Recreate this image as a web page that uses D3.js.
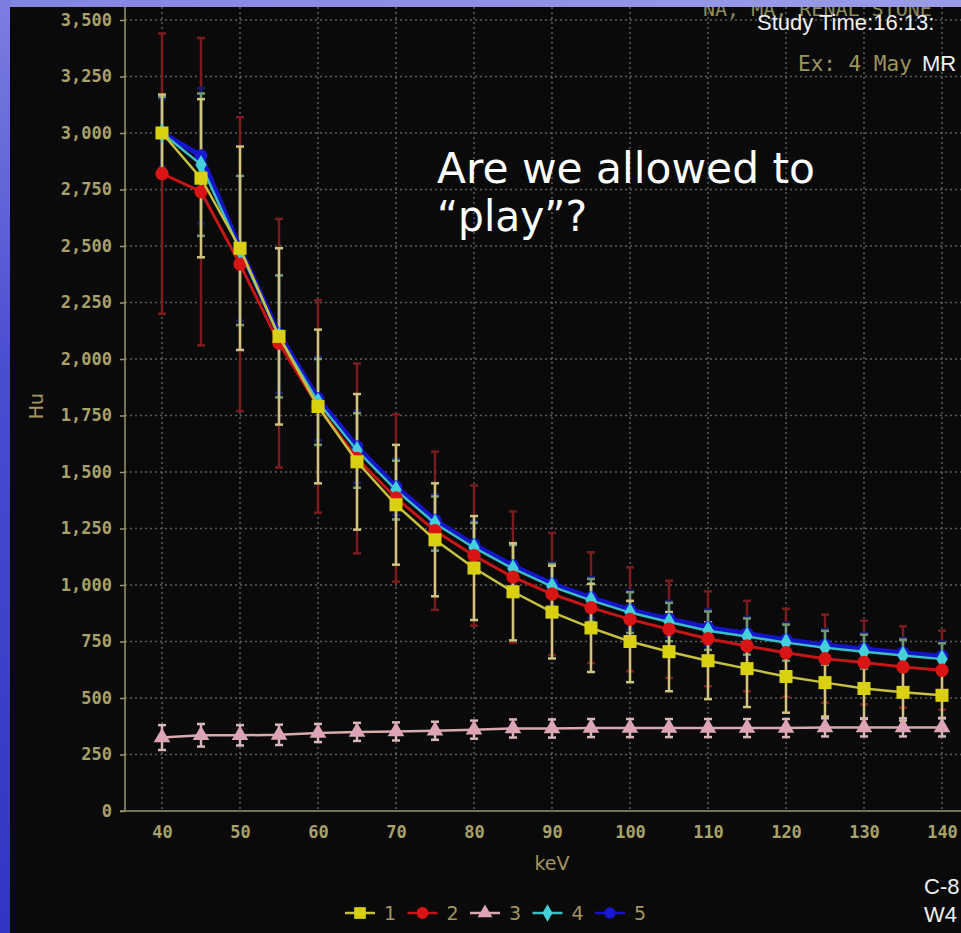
<!DOCTYPE html>
<meta charset="utf-8">
<style>
body { margin: 0; background: #0a0a0a; }
svg { display: block; }
.tick text { font-family: "DejaVu Sans Mono", monospace; font-size: 17px; font-weight: bold; fill: #a8a16a; }
.axis path, .axis line { stroke: #9a9470; stroke-width: 1.5px; }
.grid line { stroke: #5c5c5c; stroke-width: 1.5px; stroke-dasharray: 2,3; }
</style>
<svg width="961" height="933"></svg>
<script src="https://d3js.org/d3.v7.min.js"></script>
<script>

var keV = [40, 45, 50, 55, 60, 65, 70, 75, 80, 85, 90, 95, 100, 105, 110, 115, 120, 125, 130, 135, 140];

var s1 = [3000, 2800, 2490, 2100, 1790, 1545, 1355, 1200, 1075, 970, 880, 810, 750, 705, 665, 630, 595, 568, 542, 525, 512],
    s1Err = [170, 350, 450, 390, 340, 300, 265, 250, 230, 215, 205, 195, 180, 175, 170, 170, 160, 150, 135, 125, 100];
var s2 = [2820, 2740, 2420, 2070, 1790, 1560, 1385, 1240, 1130, 1035, 960, 900, 848, 804, 762, 730, 700, 674, 657, 637, 623],
    s2Err = [620, 680, 650, 550, 470, 420, 370, 350, 310, 290, 270, 245, 230, 215, 210, 200, 195, 195, 185, 180, 175];
var s3 = [325, 335, 335, 337, 345, 350, 352, 355, 360, 365, 365, 367, 367, 367, 367, 367, 367, 370, 370, 370, 370],
    s3Err = [55, 50, 45, 45, 40, 40, 40, 40, 40, 40, 40, 40, 40, 40, 40, 40, 40, 40, 40, 40, 40];
var s4 = [3000, 2860, 2480, 2100, 1810, 1595, 1420, 1272, 1165, 1072, 993, 932, 878, 836, 798, 772, 745, 722, 705, 688, 672],
    s4Err = [160, 315, 330, 270, 190, 165, 130, 120, 110, 105, 100, 95, 90, 85, 85, 80, 80, 75, 75, 70, 70];
var s5 = [3000, 2900, 2490, 2110, 1825, 1612, 1435, 1287, 1178, 1085, 1005, 944, 890, 850, 812, 785, 758, 735, 717, 700, 685],
    s5Err = [150, 300, 320, 260, 185, 160, 125, 115, 105, 100, 95, 90, 85, 80, 80, 75, 75, 70, 70, 65, 65];

var xTicks = [40, 50, 60, 70, 80, 90, 100, 110, 120, 130, 140];
var yTicks = [0, 250, 500, 750, 1000, 1250, 1500, 1750, 2000, 2250, 2500, 2750, 3000, 3250, 3500];
var seriesNames = ["1", "2", "3", "4", "5"];

var svg = d3.select("svg");

var x = d3.scaleLinear().domain([35, 145]).range([123, 981]),
    y = d3.scaleLinear().domain([0, 3500]).range([811, 20]);

// background
svg.append("rect").attr("width", 961).attr("height", 933).attr("fill", "#0a0a0a");

// grid
var grid = svg.append("g").attr("class", "grid");
grid.selectAll(".v").data(xTicks).enter().append("line")
    .attr("x1", function(d) { return x(d); }).attr("x2", function(d) { return x(d); })
    .attr("y1", 7).attr("y2", 811);
grid.selectAll(".h").data(yTicks.slice(1)).enter().append("line")
    .attr("x1", 125).attr("x2", 961)
    .attr("y1", function(d) { return y(d); }).attr("y2", function(d) { return y(d); });

// axes
svg.append("g")
    .attr("class", "axis")
    .attr("transform", "translate(125,0)")
    .call(d3.axisLeft(y).tickValues(yTicks).tickFormat(d3.format(",")).tickSize(5).tickSizeOuter(0).tickPadding(8))
    .select(".domain").attr("d", "M0,7V811");

svg.append("g")
    .attr("class", "axis")
    .attr("transform", "translate(0,811)")
    .call(d3.axisBottom(x).tickValues(xTicks).tickSize(0).tickPadding(15))
    .select(".domain").attr("d", "M120,0H961");

svg.append("text").attr("x", 552).attr("y", 870).attr("text-anchor", "middle")
    .attr("font-family", "DejaVu Sans").attr("font-size", 19).attr("fill", "#a39462").text("keV");
svg.append("text").attr("transform", "translate(43,406) rotate(-90)").attr("text-anchor", "middle")
    .attr("font-family", "DejaVu Sans").attr("font-size", 19).attr("fill", "#a39462").text("Hu");

var series = [
  {vals: s5, err: s5Err, line: "#1414c8", lw: 5, bar: "#1a1a70", fill: "#1818d0", sym: d3.symbolCircle, size: 130},
  {vals: s4, err: s4Err, line: "#3cbcc4", lw: 2.5, bar: "#6e9a72", fill: "#44d0d8", sym: d3.symbolDiamond, size: 110},
  {vals: s2, err: s2Err, line: "#c41616", lw: 3, bar: "#7a1c1c", fill: "#d81414", sym: d3.symbolCircle, size: 140},
  {vals: s1, err: s1Err, line: "#c8c040", lw: 2.5, bar: "#cfc480", fill: "#d8d010", sym: d3.symbolSquare, size: 170},
  {vals: s3, err: s3Err, line: "#d8aab0", lw: 2.5, bar: "#d8b8b8", fill: "#dca4b4", sym: d3.symbolTriangle, size: 120}
];

// error bars: red first (widest), then the rest
var barOrder = [series[2], series[0], series[1], series[3], series[4]];
barOrder.forEach(function(s) {
  var g = svg.append("g").attr("stroke", s.bar).attr("stroke-width", 2.5);
  keV.forEach(function(k, i) {
    var top = y(s.vals[i] + s.err[i]), bot = y(s.vals[i] - s.err[i]), cx = x(k);
    g.append("line").attr("x1", cx).attr("x2", cx).attr("y1", top).attr("y2", bot);
    g.append("line").attr("x1", cx - 4).attr("x2", cx + 4).attr("y1", top).attr("y2", top);
    g.append("line").attr("x1", cx - 4).attr("x2", cx + 4).attr("y1", bot).attr("y2", bot);
  });
});

var line = d3.line().x(function(d) { return x(d[0]); }).y(function(d) { return y(d[1]); });

series.forEach(function(s) {
  var pts = keV.map(function(k, i) { return [k, s.vals[i]]; });
  svg.append("path").datum(pts).attr("fill", "none").attr("stroke", s.line)
      .attr("stroke-width", s.lw).attr("d", line);
  svg.append("g").selectAll("path").data(pts).enter().append("path")
      .attr("transform", function(d) { return "translate(" + x(d[0]) + "," + y(d[1]) + ")"; })
      .attr("d", d3.symbol().type(s.sym).size(s.size))
      .attr("fill", s.fill);
});

// legend
var legendSeries = [series[3], series[2], series[4], series[1], series[0]];
var lg = svg.append("g").attr("transform", "translate(0,913)");
legendSeries.forEach(function(s, i) {
  var cx = 360 + i * 62.5;
  lg.append("line").attr("x1", cx - 15).attr("x2", cx + 15).attr("stroke", s.line).attr("stroke-width", 2.5);
  lg.append("path").attr("transform", "translate(" + cx + ",0)")
      .attr("d", d3.symbol().type(s.sym).size(s.size * 0.8)).attr("fill", s.fill);
  lg.append("text").attr("x", cx + 30).attr("y", 7).attr("text-anchor", "middle")
      .attr("font-family", "DejaVu Sans").attr("font-size", 19).attr("fill", "#a39462")
      .text(seriesNames[i]);
});

// overlay texts
svg.append("text").attr("x", 703).attr("y", 16).attr("font-family", "DejaVu Sans Mono")
    .attr("font-size", 20).attr("fill", "#8f8a5c").text("NA, MA, RENAL STONE");
svg.append("text").attr("x", 757).attr("y", 30).attr("font-family", "Liberation Sans")
    .attr("font-size", 22).attr("fill", "#f0f0f0").text("Study Time:16:13:");
svg.append("text").attr("x", 798).attr("y", 71).attr("font-family", "DejaVu Sans Mono")
    .attr("font-size", 21).attr("fill", "#9c9460").text("Ex: 4 May");
svg.append("text").attr("x", 922).attr("y", 71).attr("font-family", "Liberation Sans")
    .attr("font-size", 22).attr("fill", "#f0f0f0").text("MR");
svg.append("text").attr("x", 924).attr("y", 894).attr("font-family", "Liberation Sans")
    .attr("font-size", 22).attr("fill", "#f0f0f0").text("C-8");
svg.append("text").attr("x", 924).attr("y", 922).attr("font-family", "Liberation Sans")
    .attr("font-size", 22).attr("fill", "#f0f0f0").text("W4");

svg.append("text").attr("x", 437).attr("y", 183).attr("font-family", "DejaVu Sans")
    .attr("font-size", 42).attr("fill", "#ffffff")
    .attr("textLength", 378).attr("lengthAdjust", "spacingAndGlyphs").text("Are we allowed to");
svg.append("text").attr("x", 437).attr("y", 231).attr("font-family", "DejaVu Sans")
    .attr("font-size", 42).attr("fill", "#ffffff")
    .attr("textLength", 150).attr("lengthAdjust", "spacingAndGlyphs").text("\u201Cplay\u201D?");

// slide background edges
var defs = svg.append("defs");
var grad = defs.append("linearGradient").attr("id", "bg").attr("x1", 0).attr("y1", 0).attr("x2", 0).attr("y2", 1);
grad.append("stop").attr("offset", "0%").attr("stop-color", "#7c7ee0");
grad.append("stop").attr("offset", "40%").attr("stop-color", "#4a4cd0");
grad.append("stop").attr("offset", "100%").attr("stop-color", "#3234c4");
var gradT = defs.append("linearGradient").attr("id", "bgt");
gradT.append("stop").attr("offset", "0%").attr("stop-color", "#8284e2");
gradT.append("stop").attr("offset", "100%").attr("stop-color", "#9a9ce8");
svg.append("rect").attr("x", 0).attr("y", 0).attr("width", 961).attr("height", 7).attr("fill", "url(#bgt)");
svg.append("rect").attr("x", 0).attr("y", 0).attr("width", 10).attr("height", 933).attr("fill", "url(#bg)");

</script>
